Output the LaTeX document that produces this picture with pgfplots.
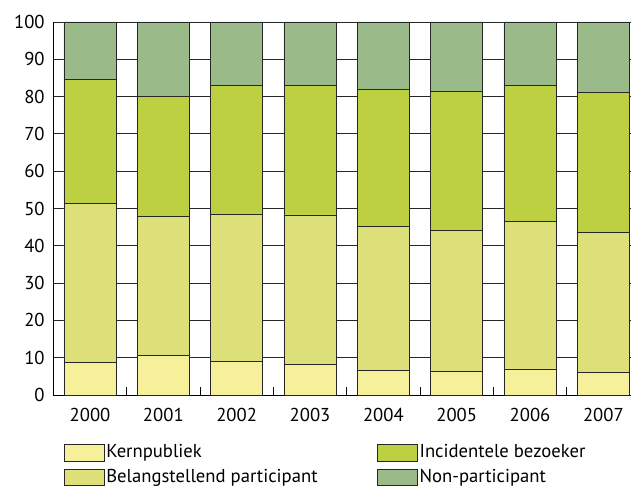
\documentclass[border=0pt]{standalone}
\usepackage{pgfplots}
\pgfplotsset{compat=1.18}
\usepackage{fontspec}
\setmainfont{PT Sans}
\definecolor{kern}{HTML}{F7F09B}
\definecolor{belang}{HTML}{DDE078}
\definecolor{incid}{HTML}{BCD042}
\definecolor{nonpart}{HTML}{9ABB89}
\begin{document}
\begin{tikzpicture}
\begin{axis}[
    name=ax,
    scale only axis,
    width=433.25pt, height=279.75pt,
    xmin=-0.5, xmax=7.377,
    ymin=0, ymax=100,
    ybar stacked,
    bar width=39.2pt,
    axis x line*=bottom,
    axis y line*=left,
    xtick={0,...,7},
    xticklabels={2000,2001,2002,2003,2004,2005,2006,2007},
    minor xtick={0.5,1.5,...,6.5},
    ytick={0,10,...,100},
    ymajorgrids,
    major grid style={black!85, line width=0.6pt},
    major tick length=0pt,
    minor tick length=6pt,
    tick align=inside,
    tick style={black, line width=0.6pt},
    axis line style={black, line width=0.7pt},
    tick label style={font=\fontsize{14}{16}\selectfont},
    /pgf/number format/assume math mode=true,
    yticklabel style={xshift=-3pt},
    xticklabel style={yshift=-6.5pt},
    legend columns=2,
    legend cell align=left,
    legend image code/.code={\draw[#1] (0pt,-6.25pt) rectangle (30pt,6.25pt);},
    legend style={
        draw=none, fill=none,
        at={(axis description cs:0.0173,-0.126)}, anchor=north west,
        inner sep=0pt,
        font=\fontsize{14}{16}\selectfont,
        row sep=3pt,
        nodes={inner sep=1.5pt, text height=10pt, text depth=2.5pt, anchor=west},
        /tikz/column 2/.style={column sep=43pt},
    },
]
% Kernpubliek
\addplot[fill=kern, draw=black!85, line width=0.5pt, forget plot] coordinates
    {(0,8.7) (1,10.7) (2,8.9) (3,8.2) (4,6.6) (5,6.4) (6,7.0) (7,6.1)};
% Belangstellend participant
\addplot[fill=belang, draw=black!85, line width=0.5pt, forget plot] coordinates
    {(0,42.6) (1,37.1) (2,39.6) (3,40.1) (4,38.5) (5,37.8) (6,39.5) (7,37.4)};
% Incidentele bezoeker
\addplot[fill=incid, draw=black!85, line width=0.5pt, forget plot] coordinates
    {(0,33.2) (1,32.3) (2,34.6) (3,34.8) (4,36.8) (5,37.3) (6,36.5) (7,37.6)};
% Non-participant
\addplot[fill=nonpart, draw=black!85, line width=0.5pt, forget plot] coordinates
    {(0,15.5) (1,19.9) (2,16.9) (3,16.9) (4,18.1) (5,18.5) (6,17.0) (7,18.9)};
% legenda in kolomvolgorde
\addlegendimage{fill=kern, draw=black!85, line width=0.5pt}
\addlegendentry{Kernpubliek}
\addlegendimage{fill=incid, draw=black!85, line width=0.5pt}
\addlegendentry{Incidentele bezoeker}
\addlegendimage{fill=belang, draw=black!85, line width=0.5pt}
\addlegendentry{Belangstellend participant}
\addlegendimage{fill=nonpart, draw=black!85, line width=0.5pt}
\addlegendentry{Non-participant}
\end{axis}
\pgfresetboundingbox
\path[use as bounding box] ([xshift=-40pt,yshift=-70.5pt]ax.south west)
    rectangle ([xshift=434pt,yshift=296.25pt]ax.south west);
\end{tikzpicture}
\end{document}
